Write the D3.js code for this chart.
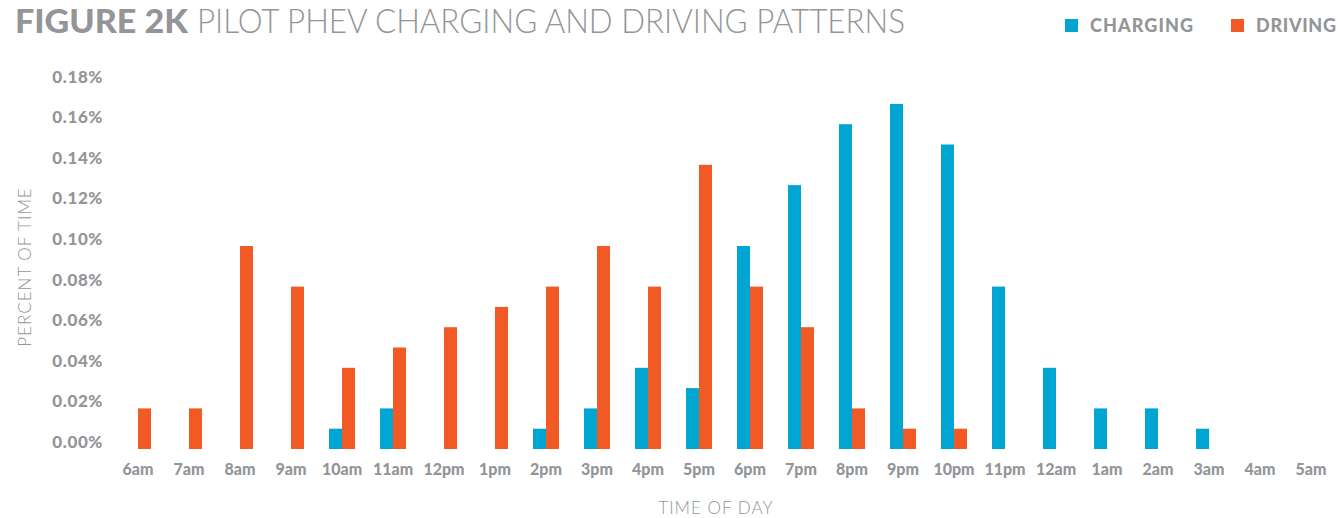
<!DOCTYPE html>
<html><head><meta charset="utf-8">
<script src="https://cdn.jsdelivr.net/npm/d3@7"></script>
<style>
body{margin:0;background:#fff;}
text{font-family:Lato,"Open Sans",sans-serif;fill:#939598;}
</style></head>
<body><svg id="c" width="1338" height="518"></svg>
<script>
const hours = ["6am","7am","8am","9am","10am","11am","12pm","1pm","2pm","3pm","4pm","5pm","6pm","7pm","8pm","9pm","10pm","11pm","12am","1am","2am","3am","4am","5am"];
const charging = [0,0,0,0,0.01,0.02,0,0,0.01,0.02,0.04,0.03,0.10,0.13,0.16,0.17,0.15,0.08,0.04,0.02,0.02,0.01,0,0];
const driving  = [0.02,0.02,0.10,0.08,0.04,0.05,0.06,0.07,0.08,0.10,0.08,0.14,0.08,0.06,0.02,0.01,0.01,0,0,0,0,0,0,0];
const yTicks = [0,0.02,0.04,0.06,0.08,0.10,0.12,0.14,0.16,0.18];
const seriesNames = ["CHARGING","DRIVING"];
const colors = ["#00a5d2","#f15a24"];

const svg = d3.select("#c");
const step = 51;
const x = d3.scalePoint().domain(hours).range([138, 138 + step*23]);
const y = d3.scaleLinear().domain([0,0.18]).range([449, 449 - 9*40.6]);
const bw = 13;

// title
svg.append("text").attr("x",15).attr("y",33).style("font-size","33px").style("font-weight","900")
  .attr("textLength",173).attr("lengthAdjust","spacingAndGlyphs").text("FIGURE 2K");
svg.append("text").attr("x",197).attr("y",33).style("font-size","33px").style("font-weight","300")
  .attr("textLength",708).attr("lengthAdjust","spacingAndGlyphs").text("PILOT PHEV CHARGING AND DRIVING PATTERNS");

// legend
const legX = [1065,1231];
const legW = [103,80];
seriesNames.forEach((n,i)=>{
  svg.append("rect").attr("x",legX[i]).attr("y",19).attr("width",13).attr("height",13).attr("fill",colors[i]);
  svg.append("text").attr("x",legX[i]+25).attr("y",32).style("font-size","18px").style("font-weight","900")
    .attr("textLength",legW[i]).attr("lengthAdjust","spacing").text(n);
});

// y axis labels
svg.append("g").selectAll("text").data(yTicks).join("text")
  .attr("x",103).attr("y",d=>y(d)-7).attr("dy","0.35em").attr("text-anchor","end")
  .style("font-size","17px").style("font-weight","900").style("letter-spacing","0.6px")
  .text(d=>d3.format(".2f")(d)+"%");

// x axis labels
svg.append("g").selectAll("text").data(hours).join("text")
  .attr("x",d=>x(d)).attr("y",469).attr("dy","0.35em").attr("text-anchor","middle")
  .style("font-size","16px").style("font-weight","900")
  .text(d=>d);

// axis titles
svg.append("text").attr("transform","translate(31,267) rotate(-90)").attr("text-anchor","middle")
  .style("font-size","17px").style("font-weight","300").style("letter-spacing","1px").text("PERCENT OF TIME");
svg.append("text").attr("x",716).attr("y",514).attr("text-anchor","middle")
  .style("font-size","17px").style("font-weight","300").style("letter-spacing","1px").text("TIME OF DAY");

// bars
[charging, driving].forEach((vals,si)=>{
  svg.append("g").selectAll("rect").data(vals.map((v,i)=>({h:hours[i],v})).filter(d=>d.v>0)).join("rect")
    .attr("x",d=>x(d.h) + (si===0 ? -bw : 0))
    .attr("y",d=>y(d.v))
    .attr("width",bw)
    .attr("height",d=>y(0)-y(d.v))
    .attr("fill",colors[si]);
});
</script></body></html>
